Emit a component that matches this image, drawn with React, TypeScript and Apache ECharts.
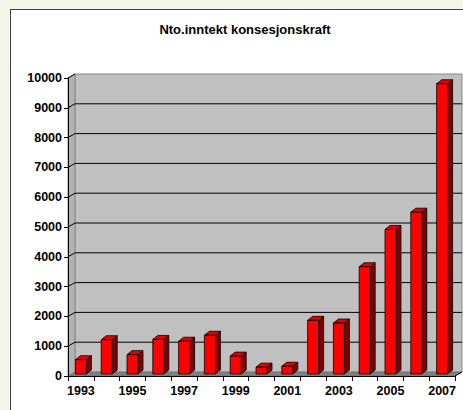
import React, { useEffect, useRef } from "react";
import * as echarts from "echarts";

const years = ["1993","1994","1995","1996","1997","1998","1999","2000","2001","2002","2003","2004","2005","2006","2007"];
const values = [480, 1150, 650, 1160, 1100, 1300, 600, 230, 260, 1800, 1710, 3600, 4850, 5430, 9740];
const yMin = 0;
const yMax = 10000;
const yStep = 1000;
const gridValues = [1000, 2000, 3000, 4000, 5000, 6000, 7000, 8000, 9000];
const title = "Nto.inntekt konsesjonskraft";

const WALL_DX = 7;
const WALL_DY = -4;

export default function App() {
  const ref = useRef<HTMLDivElement>(null);
  useEffect(() => {
    document.body.style.margin = "0";
    const chart = echarts.init(ref.current!, null, { renderer: "svg" });
    const font = "'Liberation Sans', Arial, sans-serif";
    chart.setOption({
      animation: false,
      grid: { left: 68, top: 78, right: 8, bottom: 34, containLabel: false },
      graphic: [
        {
          type: "text",
          x: 245,
          y: 29,
          style: {
            text: title,
            fontFamily: font,
            fontWeight: "bold",
            fontSize: 13,
            fill: "#000",
            textAlign: "center",
            textVerticalAlign: "middle",
          },
        },
      ],
      xAxis: {
        type: "category",
        data: years,
        boundaryGap: true,
        z: 6,
        axisLine: { lineStyle: { color: "#000", width: 1 } },
        axisTick: { show: true, alignWithLabel: false, interval: 0, length: 5, lineStyle: { color: "#000" } },
        axisLabel: { interval: 1, margin: 8, color: "#000", fontFamily: font, fontWeight: "bold", fontSize: 12.5 },
        splitLine: { show: false },
      },
      yAxis: {
        type: "value",
        min: yMin,
        max: yMax,
        interval: yStep,
        z: 6,
        axisLine: { show: true, lineStyle: { color: "#000", width: 1 } },
        axisTick: { show: true, length: 4, lineStyle: { color: "#000" } },
        axisLabel: {
          margin: 6,
          color: "#000",
          fontFamily: font,
          fontWeight: "bold",
          fontSize: 12.5,
          formatter: (v: number) => String(v),
        },
        splitLine: { show: false },
      },
      series: [
        {
          type: "custom",
          z: 1,
          silent: true,
          data: [[0, 0]],
          renderItem: (params: any, api: any) => {
            const cs = params.coordSys;
            const x0 = cs.x, x1 = cs.x + cs.width, yT = cs.y, yB = cs.y + cs.height;
            const children: any[] = [
              {
                type: "rect",
                shape: { x: x0 + WALL_DX, y: yT + WALL_DY, width: x1 - x0, height: yB - yT },
                style: { fill: "#c0c0c0", stroke: "#8a8a8a", lineWidth: 1 },
              },
              {
                type: "polygon",
                shape: { points: [[x0, yT], [x0 + WALL_DX, yT + WALL_DY], [x0 + WALL_DX, yB + WALL_DY], [x0, yB]] },
                style: { fill: "#b2b2b2", stroke: "#8a8a8a", lineWidth: 1 },
              },
              {
                type: "polygon",
                shape: { points: [[x0, yB], [x1, yB], [x1 + WALL_DX, yB + WALL_DY], [x0 + WALL_DX, yB + WALL_DY]] },
                style: { fill: "#808080", stroke: "#606060", lineWidth: 0.5 },
              },
            ];
            gridValues.forEach((v) => {
              const y = api.coord([0, v])[1];
              children.push({
                type: "polyline",
                shape: { points: [[x0, y], [x0 + WALL_DX, y + WALL_DY], [x1 + WALL_DX, y + WALL_DY]] },
                style: { stroke: "#000", lineWidth: 1, fill: "none" },
              });
            });
            const yTop = api.coord([0, yMax])[1];
            children.push({
              type: "line",
              shape: { x1: x0, y1: yTop, x2: x0 + WALL_DX, y2: yTop + WALL_DY },
              style: { stroke: "#000", lineWidth: 1 },
            });
            children.push({
              type: "line",
              shape: { x1: x1, y1: yB, x2: x1 + WALL_DX, y2: yB + WALL_DY },
              style: { stroke: "#000", lineWidth: 1 },
            });
            return { type: "group", children };
          },
        },
        {
          type: "custom",
          z: 3,
          data: values.map((v, i) => [i, v]),
          renderItem: (params: any, api: any) => {
            const i = api.value(0);
            const v = api.value(1);
            const top = api.coord([i, v]);
            const base = api.coord([i, 0]);
            const w = 11;
            const dx = 5, dy = -4, sy = -2;
            const fl = top[0] - w / 2;
            const fr = top[0] + w / 2;
            const yt = top[1] + sy;
            const yb = base[1] + sy;
            const stroke = { stroke: "#000", lineWidth: 0.8, lineJoin: "round" };
            return {
              type: "group",
              children: [
                {
                  type: "polygon",
                  shape: { points: [[fr, yt], [fr + dx, yt + dy], [fr + dx, yb + dy], [fr, yb]] },
                  style: { fill: "#800000", ...stroke },
                },
                {
                  type: "polygon",
                  shape: { points: [[fl, yt], [fl + dx, yt + dy], [fr + dx, yt + dy], [fr, yt]] },
                  style: { fill: "#e00000", ...stroke },
                },
                {
                  type: "rect",
                  shape: { x: fl, y: yt, width: w, height: yb - yt },
                  style: { fill: "#ff0000", ...stroke },
                },
              ],
            };
          },
        },
      ],
    });
    return () => chart.dispose();
  }, []);
  return (
    <div style={{ position: "relative", width: 463, height: 410, background: "#f3f5e8", overflow: "hidden" }}>
      <div
        style={{
          position: "absolute",
          left: 10,
          top: 9,
          width: 470,
          height: 420,
          background: "#fff",
          border: "1.5px solid #404040",
        }}
      />
      <div ref={ref} style={{ position: "absolute", left: 0, top: 0, width: 463, height: 410 }} />
    </div>
  );
}
